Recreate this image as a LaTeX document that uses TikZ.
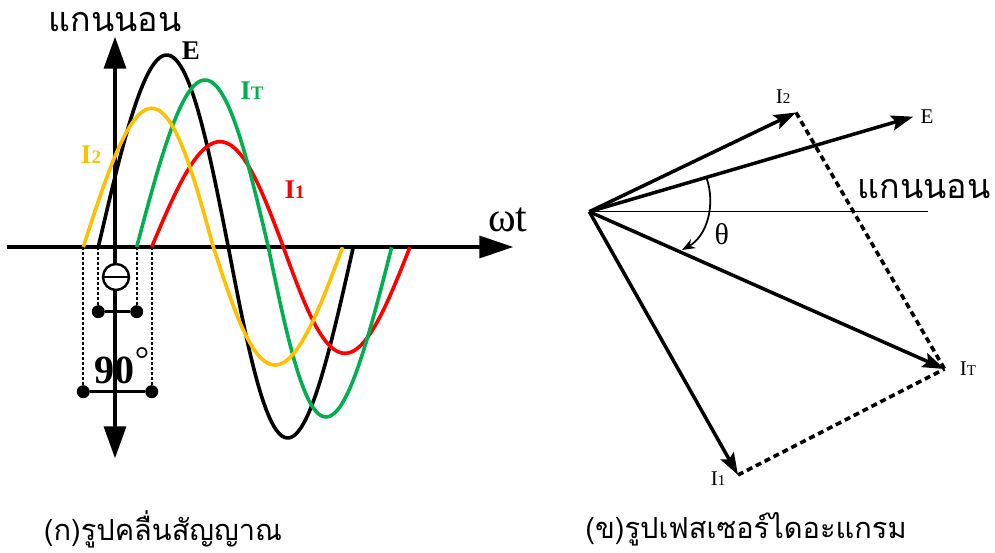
\documentclass[tikz,border=0pt]{standalone}
\usepackage{fontspec}
\setmainfont{Liberation Serif}
\newfontfamily\thai[Script=Thai]{Loma}
\usetikzlibrary{arrows.meta}
\definecolor{cyel}{HTML}{FFC000}
\definecolor{cgrn}{HTML}{00B050}
\definecolor{cred}{HTML}{FF0000}
\newcommand{\fs}[1]{\fontsize{#1}{#1}\selectfont}
% \wavecurve{color}{xa}{xm}{xb}{Aup}{Adown}{s1}{s2}
\newcommand{\wavecurve}[8]{%
  \draw[wave,#1] plot[domain=0:1,samples=60,variable=\t]
    ({#2+(#3-#2)*\t+#7*sin(180*\t)},{247-#5*sin(180*\t)})
    -- plot[domain=0:1,samples=60,variable=\t]
    ({#3+(#4-#3)*\t+#8*sin(180*\t)},{247+#6*sin(180*\t)});}
\begin{document}
\begin{tikzpicture}[x=1pt,y=-1pt,
  axisline/.style={line width=3.4pt},
  wave/.style={line width=3.6pt},
  dashv/.style={line width=2pt,dash pattern=on 3pt off 2pt},
  dotn/.style={circle,fill=black,inner sep=0pt,minimum size=13pt},
  vec/.style={line width=3.5pt,-{Stealth[length=22pt,width=15pt,inset=4pt]}},
  dashp/.style={line width=3.6pt,dash pattern=on 6pt off 4pt},
  lbl/.style={inner sep=0pt},
]
\useasboundingbox (0,0) rectangle (995,553);

% ---------- left: waveforms ----------
\coordinate (xl) at (7.3,247);
\coordinate (xr) at (513.3,247);
\coordinate (yt) at (115,36.7);
\coordinate (yb) at (115,458.3);

% dashed projections
\coordinate (dy0) at (83.3,247);  \coordinate (dy1) at (83.3,391.7);
\coordinate (dk0) at (98.3,247);  \coordinate (dk1) at (98.3,311.7);
\coordinate (dg0) at (136.7,247); \coordinate (dg1) at (136.7,311.7);
\coordinate (dr0) at (151.7,247); \coordinate (dr1) at (151.7,391.7);
\draw[dashv] (dy0) -- (dy1);
\draw[dashv] (dk0) -- (dk1);
\draw[dashv] (dg0) -- (dg1);
\draw[dashv] (dr0) -- (dr1);

\draw[axisline,-{Triangle[length=34pt,width=22pt]}] (xl) -- (xr);
\draw[axisline,{Triangle[length=32pt,width=22pt]}-{Triangle[length=32pt,width=22pt]}] (yb) -- (yt);

\wavecurve{black}{98.3}{228.3}{353.3}{192}{191}{3.4}{-3.1}
\wavecurve{cred}{151.7}{283.3}{410}{105.3}{106.3}{2.5}{-1.7}
\wavecurve{cgrn}{136.7}{268.3}{391.7}{167}{170}{2.5}{-4}
\wavecurve{cyel}{83.3}{213.3}{342.7}{138.7}{118}{3.4}{-3}

% phase markers
\node[dotn] (pk) at (dk1) {};
\node[dotn] (pg) at (dg1) {};
\node[dotn] (py) at (dy1) {};
\node[dotn] (pr) at (dr1) {};
\draw[line width=2.6pt] (pk) -- (pg);
\draw[line width=2.6pt] (py) -- (pr);
\node[circle,draw,fill=white,line width=2.4pt,minimum size=26pt,inner sep=0pt] (lead) at (116,277) {};
\draw[line width=2.4pt] (lead.west) -- (lead.east);
\node[lbl] (deg) at (122,366) {\fs{40}\bfseries 90\raisebox{0.3em}{\fs{36}\mdseries °}};

% labels
\node[lbl] (ylab) at (115,22) {\thai\fs{34}แกนนอน};
\node[lbl] (wt) at (508,220) {\fs{42}ωt};
\node[lbl] (lE) at (191,51) {\fs{27}\bfseries E};
\node[lbl,text=cgrn] (lIT) at (252,91) {\fs{27}\bfseries I\fs{19}T};
\node[lbl,text=cyel] (lI2) at (91,155) {\fs{27}\bfseries I\fs{19}2};
\node[lbl,text=cred] (lI1) at (294.5,190) {\fs{27}\bfseries I\fs{19}1};

% ---------- right: phasor diagram ----------
\coordinate (O) at (589.3,211.7);
\coordinate (HX) at (928.3,211.7);
\coordinate (Ep) at (913.3,116.7);
\coordinate (I2p) at (796,112.5);
\coordinate (ITp) at (944.5,369);
\coordinate (I1p) at (738,475);
\draw[line width=1.6pt] (O) -- (HX);
\draw[dashp] (I2p) -- (ITp);
\draw[dashp] (I1p) -- (ITp);
\draw[vec] (O) -- (I2p);
\draw[vec] (O) -- (Ep);
\draw[vec] (O) -- (ITp);
\draw[vec] (O) -- (I1p);
\coordinate (th0) at (706.4,177.5);
\coordinate (th1) at (682,250);
\draw[line width=1.8pt,-{Stealth[length=13pt,width=10pt]}] (th0) .. controls (716,205) and (707,236) .. (th1);
\node[lbl] (lth) at (721.7,234) {\fs{30}θ};
\node[lbl] (hlab) at (924,189) {\thai\fs{34}แกนนอน};
\node[lbl] (rE) at (927,116.7) {\fs{21}E};
\node[lbl] (rI2) at (783,97) {\fs{21}I\fs{15}2};
\node[lbl] (rIT) at (968,369) {\fs{21}I\fs{15}T};
\node[lbl] (rI1) at (718,479) {\fs{21}I\fs{15}1};

% captions
\node[lbl] (capA) at (163,529) {\thai\fs{29}(ก)รูปคลื่นสัญญาณ};
\node[lbl] (capB) at (746,529) {\thai\fs{29}(ข)รูปเฟสเซอร์ไดอะแกรม};
\end{tikzpicture}
\end{document}
